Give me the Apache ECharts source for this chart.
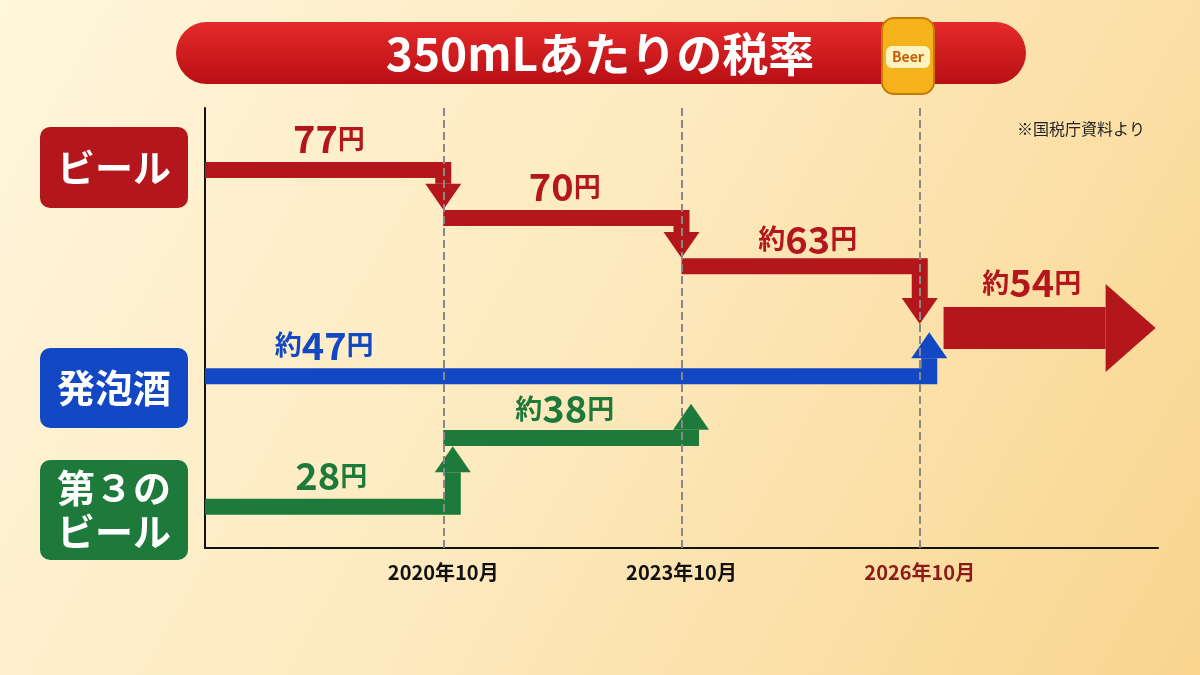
<!DOCTYPE html>
<html style="height: 100%">
<head>
    <meta charset="UTF-8">
    <title>350mLあたりの税率</title>
</head>
<body style="height: 100%; margin: 0">
    <div id="container" style="height: 100%"></div>
    <script src="https://cdn.jsdelivr.net/npm/echarts@6/dist/echarts.min.js"></script>
    <script type="text/javascript">
        // 時期（x軸の区切り）
        var periods = ['2020年10月', '2023年10月', '2026年10月'];
        // 税額（円）
        var beerValues = [77, 70, 63, 54];
        var happoValue = 47;
        var thirdValues = [28, 38];
        var approx = { 63: true, 54: true, 47: true, 38: true };

        var RED = '#b3161b', BLUE = '#1248c4', GREEN = '#1d7a3a';
        var FONT = '"Noto Sans CJK JP", sans-serif';

        var dom = document.getElementById('container');
        var myChart = echarts.init(dom);

        // 矢印（折れ線＋先端）
        var arrows = [
            { pts: [[0, beerValues[0]], [1, beerValues[0]], [1, beerValues[1] + 1.2]], color: RED },
            { pts: [[1, beerValues[1]], [2, beerValues[1]], [2, beerValues[2] + 1.2]], color: RED },
            { pts: [[2, beerValues[2]], [3, beerValues[2]], [3, beerValues[3] + 0.6]], color: RED },
            { pts: [[0, happoValue], [3.04, happoValue], [3.04, beerValues[3] - 0.6]], color: BLUE },
            { pts: [[0, thirdValues[0]], [1.04, thirdValues[0]], [1.04, thirdValues[1] - 1.2]], color: GREEN },
            { pts: [[1, thirdValues[1]], [2.04, thirdValues[1]], [2.04, 43]], color: GREEN },
            { pts: [[3.1, beerValues[3]], [3.99, beerValues[3]]], color: RED, w: 42, hw: 88, hl: 50 }
        ];

        function renderArrow(params, api) {
            var a = arrows[params.dataIndex];
            var w = a.w || 16, hw = a.hw || 36, hl = a.hl || 26;
            var p = a.pts.map(function (d) { return api.coord(d); });
            var n = p.length;
            var tip = p[n - 1], prev = p[n - 2];
            var dx = tip[0] - prev[0], dy = tip[1] - prev[1];
            var len = Math.sqrt(dx * dx + dy * dy);
            var ux = dx / len, uy = dy / len;
            var base = [tip[0] - ux * hl, tip[1] - uy * hl];
            var shaft = p.slice(0, n - 1).concat([base]);
            // 始点は半幅ぶん延ばさない、角は miter
            return {
                type: 'group', children: [
                    { type: 'polyline', shape: { points: shaft }, style: { stroke: a.color, lineWidth: w, fill: null, lineJoin: 'miter', lineCap: 'butt' } },
                    { type: 'polygon', shape: { points: [tip, [base[0] - uy * hw / 2, base[1] + ux * hw / 2], [base[0] + uy * hw / 2, base[1] - ux * hw / 2]] }, style: { fill: a.color } }
                ]
            };
        }

        // ラベル
        function lbl(x, v, color, dist) {
            return {
                value: [x, v],
                label: {
                    color: color, distance: dist,
                    formatter: (approx[v] ? '{s|約}' : '') + '{n|' + v + '}{s|円}'
                }
            };
        }
        var labels = [
            lbl(0.52, beerValues[0], RED, 12), lbl(1.51, beerValues[1], RED, 12),
            lbl(2.53, beerValues[2], RED, 8), lbl(3.47, beerValues[3], RED, 26),
            lbl(0.5, happoValue, BLUE, 12), lbl(1.51, thirdValues[1], GREEN, 10),
            lbl(0.53, thirdValues[0], GREEN, 12)
        ];

        function tag(y, h, color, text) {
            return {
                type: 'group', children: [
                    { type: 'rect', shape: { x: 40, y: y, width: 148, height: h, r: 10 }, style: { fill: color } },
                    { type: 'text', x: 114, y: y + h / 2, style: { text: text, fill: '#fff', font: 'bold 38px ' + FONT, textAlign: 'center', textVerticalAlign: 'middle', lineHeight: 44 } }
                ]
            };
        }

        var option = {
            backgroundColor: new echarts.graphic.LinearGradient(0, 0, 1, 1, [
                { offset: 0, color: '#fff6dc' }, { offset: 0.5, color: '#fde9bd' }, { offset: 1, color: '#f9d58e' }
            ]),
            grid: { left: 205, right: 42, top: 108, bottom: 127 },
            xAxis: {
                type: 'value', min: 0, max: 4, interval: 1,
                axisLine: { lineStyle: { color: '#111', width: 2 } },
                axisTick: { show: false },
                splitLine: { show: false },
                axisLabel: {
                    margin: 14, fontFamily: FONT, fontSize: 20, fontWeight: 'bold',
                    formatter: function (v) {
                        if (v < 1 || v > 3) return '';
                        return v === 3 ? '{r|' + periods[v - 1] + '}' : periods[v - 1];
                    },
                    color: '#111',
                    rich: { r: { color: '#8b1a1a', fontSize: 20, fontWeight: 'bold', fontFamily: FONT } }
                }
            },
            yAxis: {
                type: 'value', min: 22, max: 86,
                axisLine: { show: true, lineStyle: { color: '#111', width: 2 } },
                axisTick: { show: false }, axisLabel: { show: false }, splitLine: { show: false }
            },
            series: [
                {
                    type: 'line', data: [], silent: true,
                    markLine: {
                        symbol: 'none', silent: true, label: { show: false },
                        lineStyle: { color: '#888', type: 'dashed', width: 2 },
                        data: [{ xAxis: 1 }, { xAxis: 2 }, { xAxis: 3 }]
                    }
                },
                {
                    type: 'custom', silent: true, renderItem: renderArrow,
                    data: arrows.map(function (a, i) { return [i]; })
                },
                {
                    type: 'scatter', symbolSize: 0, silent: true, data: labels,
                    itemStyle: { opacity: 1 },
                    label: {
                        show: true, position: 'top',
                        rich: {
                            n: { fontSize: 38, fontWeight: 'bold', fontFamily: FONT },
                            s: { fontSize: 27, fontWeight: 'bold', fontFamily: FONT }
                        }
                    }
                }
            ],
            graphic: [
                {
                    type: 'rect', shape: { x: 176, y: 22, width: 850, height: 62, r: 31 },
                    style: { fill: new echarts.graphic.LinearGradient(0, 0, 0, 1, [{ offset: 0, color: '#e52a2a' }, { offset: 1, color: '#b80f14' }]) }
                },
                { type: 'text', x: 600, y: 54, style: { text: '350mLあたりの税率', fill: '#fff', font: 'bold 46px ' + FONT, textAlign: 'center', textVerticalAlign: 'middle' } },
                { type: 'rect', shape: { x: 882, y: 18, width: 52, height: 76, r: 12 }, style: { fill: '#f6b21b', stroke: '#c77a06', lineWidth: 2 } },
                { type: 'rect', shape: { x: 886, y: 46, width: 44, height: 22, r: 6 }, style: { fill: '#fff4c0' } },
                { type: 'text', x: 908, y: 57, style: { text: 'Beer', fill: '#c55a00', font: 'bold 14px ' + FONT, textAlign: 'center', textVerticalAlign: 'middle' } },
                { type: 'text', x: 1145, y: 129, style: { text: '※国税庁資料より', fill: '#222', font: '16px ' + FONT, textAlign: 'right', textVerticalAlign: 'middle' } },
                tag(127, 81, RED, 'ビール'),
                tag(348, 80, BLUE, '発泡酒'),
                tag(460, 100, GREEN, '第３の\nビール')
            ]
        };

        myChart.setOption(option, true);
    </script>
</body>
</html>
